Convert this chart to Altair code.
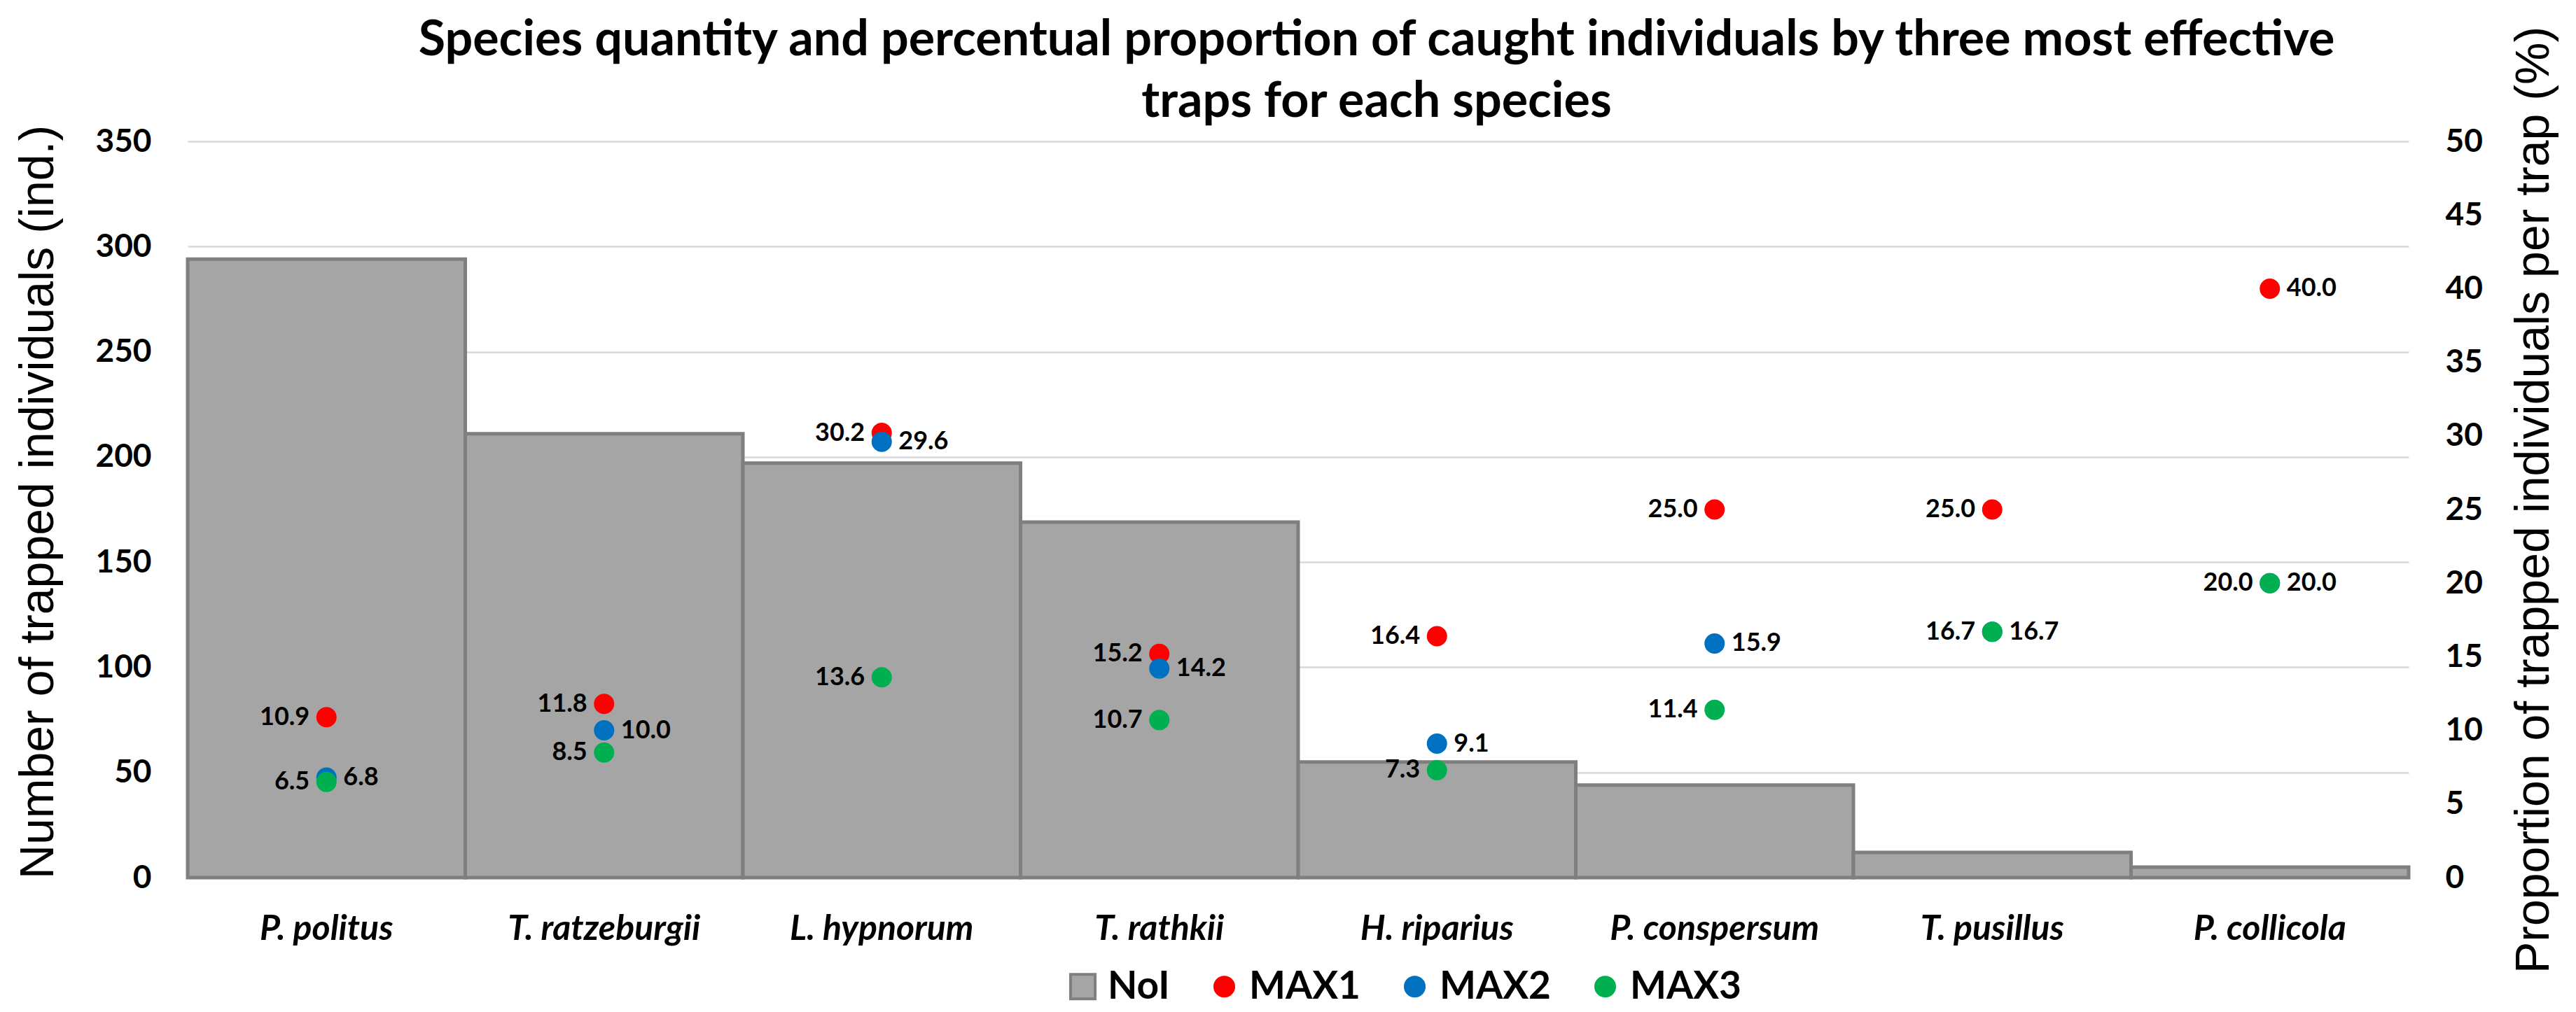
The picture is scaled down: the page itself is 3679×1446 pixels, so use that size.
import altair as alt
import pandas as pd

species = ["P. politus", "T. ratzeburgii", "L. hypnorum", "T. rathkii",
           "H. riparius", "P. conspersum", "T. pusillus", "P. collicola"]
noi = [294, 211, 197, 169, 55, 44, 12, 5]
max1 = [10.9, 11.8, 30.2, 15.2, 16.4, 25.0, 25.0, 40.0]
max2 = [6.8, 10.0, 29.6, 14.2, 9.1, 15.9, 16.7, 20.0]
max3 = [6.5, 8.5, 13.6, 10.7, 7.3, 11.4, 16.7, 20.0]
# side of the value label relative to its point (L = left, R = right)
side1 = ["L", "L", "L", "L", "L", "L", "L", "R"]
side2 = ["R", "R", "R", "R", "R", "R", "R", "R"]
side3 = ["L", "L", "L", "L", "L", "L", "L", "L"]

series_names = ["NoI", "MAX1", "MAX2", "MAX3"]
series_fill = ["#a5a5a5", "#ff0000", "#0070c0", "#00b050"]
series_stroke = ["#7f7f7f", "#ff0000", "#0070c0", "#00b050"]
series_shape = ["M-1.3,-1.3H1.3V1.3H-1.3Z", "circle", "circle", "circle"]

left_ticks = [0, 50, 100, 150, 200, 250, 300, 350]
right_ticks = [0, 5, 10, 15, 20, 25, 30, 35, 40, 45, 50]

bar_df = pd.DataFrame({"species": species, "noi": noi})
rows = []
for k, (name, vals, sides) in enumerate([("MAX1", max1, side1), ("MAX2", max2, side2), ("MAX3", max3, side3)]):
    for sp, v, s in zip(species, vals, sides):
        rows.append({"species": sp, "series": name, "pct": v, "side": s, "k": k,
                     "label": f"{v:.1f}"})
pt_df = pd.DataFrame(rows)

x_enc = alt.X("species:N", sort=species,
              scale=alt.Scale(paddingInner=0, paddingOuter=0),
              axis=alt.Axis(title=None, labelFont="Lato", labelFontSize=50,
                            labelFontStyle="italic", labelFontWeight="bold",
                            labelColor="black", labelAngle=0, labelPadding=48,
                            labelLimit=0,
                            ticks=False, domain=True, domainColor="#d9d9d9",
                            domainWidth=3))

bars = alt.Chart(bar_df).mark_bar(fill="#a5a5a5", stroke="#7f7f7f", strokeWidth=5).encode(
    x=x_enc,
    y=alt.Y("noi:Q", scale=alt.Scale(domain=[0, 350], nice=False),
            axis=alt.Axis(orient="left", values=left_ticks,
                          title="Number of trapped individuals (ind.)",
                          titleFont="Liberation Sans", titleFontSize=68,
                          titleFontWeight="normal", titleColor="black",
                          titleAngle=270, titleX=-213, titleY=515,
                          titleBaseline="middle", titleAlign="center",
                          labelFont="Lato", labelFontSize=46, labelFontWeight="bold",
                          labelColor="black", labelPadding=52, ticks=False,
                          domain=False, grid=True, gridColor="#d9d9d9",
                          gridWidth=2.5)),
)

leg = dict(title=None)
pts = alt.Chart(pt_df).mark_point(filled=True, strokeWidth=2, opacity=1, size=729).encode(
    x=x_enc,
    y=alt.Y("pct:Q", scale=alt.Scale(domain=[0, 50], nice=False),
            axis=alt.Axis(orient="right", values=right_ticks,
                          title="Proportion of trapped individuals per trap (%)",
                          titleFont="Liberation Sans", titleFontSize=68,
                          titleFontWeight="normal", titleColor="black",
                          titleAngle=270, titleX=179, titleY=512,
                          titleBaseline="middle", titleAlign="center",
                          labelFont="Lato", labelFontSize=46, labelFontWeight="bold",
                          labelColor="black", labelPadding=52, ticks=False,
                          domain=False, grid=False)),
    color=alt.Color("series:N", scale=alt.Scale(domain=series_names, range=series_fill), **leg),
    stroke=alt.Stroke("series:N", scale=alt.Scale(domain=series_names, range=series_stroke), **leg),
    shape=alt.Shape("series:N", scale=alt.Scale(domain=series_names, range=series_shape), **leg),
    order=alt.Order("k:Q"),
)

y_lab = alt.Y("pct:Q", scale=alt.Scale(domain=[0, 50], nice=False), axis=None)
lab_left = alt.Chart(pt_df).transform_filter(alt.datum.side == "L").mark_text(
    font="Lato", fontSize=36, fontWeight="bold", color="black",
    align="right", baseline="middle", dx=-24).encode(x=x_enc, y=y_lab, text="label:N")
lab_right = alt.Chart(pt_df).transform_filter(alt.datum.side == "R").mark_text(
    font="Lato", fontSize=36, fontWeight="bold", color="black",
    align="left", baseline="middle", dx=24).encode(x=x_enc, y=y_lab, text="label:N")

chart = alt.layer(bars, pts, lab_left, lab_right).resolve_scale(
    y="independent"
).properties(
    width=3172, height=1052,
    title=alt.TitleParams(
        ["Species quantity  and percentual proportion of caught individuals by three most effective",
         "traps for each species"],
        font="Lato", fontSize=70, fontWeight="bold", color="black",
        anchor="middle", frame="group", dx=112, dy=145, offset=0, lineHeight=88),
    autosize=alt.AutoSizeParams(type="none"),
    padding={"left": 260, "top": 194, "right": 231, "bottom": 184},
    background="white",
).configure_view(stroke=None).configure_legend(
    orient="none", legendX=1251, legendY=1180, direction="horizontal",
    padding=0, labelFont="Lato", labelFontSize=55, labelFontWeight="bold",
    labelColor="black", labelOffset=8, columnPadding=50,
    symbolStrokeWidth=4, symbolSize=729,
)

chart.save("out.html", embed_options={"renderer": "svg", "actions": False})
